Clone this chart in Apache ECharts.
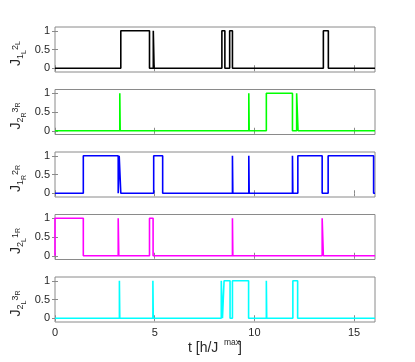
<!DOCTYPE html>
<html>
<head>
<meta charset="utf-8">
<script src="https://cdn.jsdelivr.net/npm/echarts@6/dist/echarts.min.js"></script>
<style>
  html, body { margin: 0; padding: 0; background: #fff; }
  #chart { width: 415px; height: 362px; }
</style>
</head>
<body>
<div id="chart"></div>
<script>
// time axis, in h/J^max
var tMax = 16.05
var xTicks = [0, 5, 10, 15]
var yTicks = [0, 0.5, 1]

// intervals [start, end] where each coupling is switched on (value 1)
var j1L2L = [[3.3, 4.74], [4.93, 4.97], [8.37, 8.52], [8.76, 8.9], [13.46, 13.71]]
var j2R3R = [[3.25, 3.27], [9.72, 9.74], [10.6, 11.91], [12.12, 12.19]]
var j1R2R = [[1.42, 3.17], [3.22, 3.3], [4.95, 5.4], [8.9, 8.92], [9.72, 9.74], [11.91, 11.93], [12.18, 13.4], [13.7, 15.98]]
var j2L1R = [[0, 1.42], [3.17, 3.2], [4.74, 4.92], [8.9, 8.92], [13.4, 13.46]]
var j2L3R = [[3.23, 3.25], [4.91, 4.93], [8.34, 8.4], [8.48, 8.78], [8.9, 9.71], [10.6, 10.62], [11.93, 12.17]]

var panels = [
  { data: j1L2L, color: '#000000', sub: ['1', 'L', '2', 'L'] },
  { data: j2R3R, color: '#00ff00', sub: ['2', 'R', '3', 'R'] },
  { data: j1R2R, color: '#0000ff', sub: ['1', 'R', '2', 'R'] },
  { data: j2L1R, color: '#ff00ff', sub: ['2', 'L', '1', 'R'] },
  { data: j2L3R, color: '#00ffff', sub: ['2', 'L', '3', 'R'] }
]

var FONT = 'Liberation Sans, Arial, sans-serif'
var axisGray = '#8a8a8a'
var textColor = '#262626'

// turn on-intervals into a step line
function toSteps(intervals) {
  var pts = [[0, 0]]
  intervals.forEach(function(iv) {
    pts.push([iv[0], 0], [iv[0], 1], [iv[1], 1], [iv[1], 0])
  })
  pts.push([tMax, 0])
  return pts
}

// rich styles for the rotated J label, subscripts shifted with top padding
var labelRich = {
  j: { fontSize: 14, lineHeight: 14, padding: [0, 0, 10, 0], verticalAlign: 'top', color: textColor, fontFamily: FONT },
  s1: { fontSize: 9, lineHeight: 9, padding: [7, 0, 8, 0], verticalAlign: 'top', color: textColor, fontFamily: FONT },
  ss1: { fontSize: 7, lineHeight: 7, padding: [12, 0, 5, 0], verticalAlign: 'top', color: textColor, fontFamily: FONT },
  s2: { fontSize: 9, lineHeight: 9, padding: [2, 0, 13, 0], verticalAlign: 'top', color: textColor, fontFamily: FONT },
  ss2: { fontSize: 7, lineHeight: 7, padding: [6, 8, 11, 0], verticalAlign: 'top', color: textColor, fontFamily: FONT }
}

var grids = []
var xAxes = []
var yAxes = []
var series = []

panels.forEach(function(p, i) {
  var top = 27 + i * 62.5
  var h = 45
  var last = i === panels.length - 1
  grids.push({
    left: 55, width: 320, top: top, height: h,
    containLabel: false, outerBoundsMode: 'none',
    show: true, borderColor: axisGray, borderWidth: 1, backgroundColor: '#fff'
  })
  var tick = { show: true, inside: true, length: 3, lineStyle: { color: axisGray } }
  xAxes.push({
    type: 'value', gridIndex: i, min: 0, max: tMax, position: 'bottom',
    axisLine: { show: false }, splitLine: { show: false },
    axisTick: Object.assign({ customValues: xTicks }, tick),
    axisLabel: {
      show: last, customValues: xTicks, margin: 5,
      fontSize: 11, color: textColor, fontFamily: FONT
    }
  })
  xAxes.push({
    type: 'value', gridIndex: i, min: 0, max: tMax, position: 'top',
    axisLine: { show: false }, splitLine: { show: false },
    axisTick: Object.assign({ customValues: xTicks }, tick),
    axisLabel: { show: false }
  })
  yAxes.push({
    type: 'value', gridIndex: i, min: -0.1, max: 1.1, position: 'left',
    axisLine: { show: false }, splitLine: { show: false },
    axisTick: Object.assign({ customValues: yTicks }, tick),
    axisLabel: {
      customValues: yTicks, margin: 5,
      fontSize: 11, color: textColor, fontFamily: FONT
    },
    name: '{j|J}{s1|' + p.sub[0] + '}{ss1|' + p.sub[1] + '}{s2|' + p.sub[2] + '}{ss2|' + p.sub[3] + '}',
    nameLocation: 'middle',
    nameRotate: 90,
    nameGap: 32,
    nameMoveOverlap: false,
    nameTextStyle: { rich: labelRich }
  })
  yAxes.push({
    type: 'value', gridIndex: i, min: -0.1, max: 1.1, position: 'right',
    axisLine: { show: false }, splitLine: { show: false },
    axisTick: Object.assign({ customValues: yTicks }, tick),
    axisLabel: { show: false }
  })
  series.push({
    type: 'line',
    xAxisIndex: i * 2,
    yAxisIndex: i * 2,
    data: toSteps(p.data),
    showSymbol: false,
    lineStyle: { color: p.color, width: 1.6 },
    itemStyle: { color: p.color }
  })
})

// x axis title: t [h/J^max]
var graphics = [
  { type: 'text', x: 188, y: 348, style: { text: 't [h/J', fill: textColor, fontSize: 14, fontFamily: FONT, textAlign: 'left', verticalAlign: 'middle' } },
  { type: 'text', x: 224, y: 343, style: { text: 'max', fill: textColor, fontSize: 8.5, fontFamily: FONT, textAlign: 'left', verticalAlign: 'middle' } },
  { type: 'text', x: 238, y: 348, style: { text: ']', fill: textColor, fontSize: 14, fontFamily: FONT, textAlign: 'left', verticalAlign: 'middle' } }
]

var chart = echarts.init(document.getElementById('chart'))
chart.setOption({
  animation: false,
  backgroundColor: '#fff',
  grid: grids,
  xAxis: xAxes,
  yAxis: yAxes,
  series: series,
  graphic: graphics
})
</script>
</body>
</html>
